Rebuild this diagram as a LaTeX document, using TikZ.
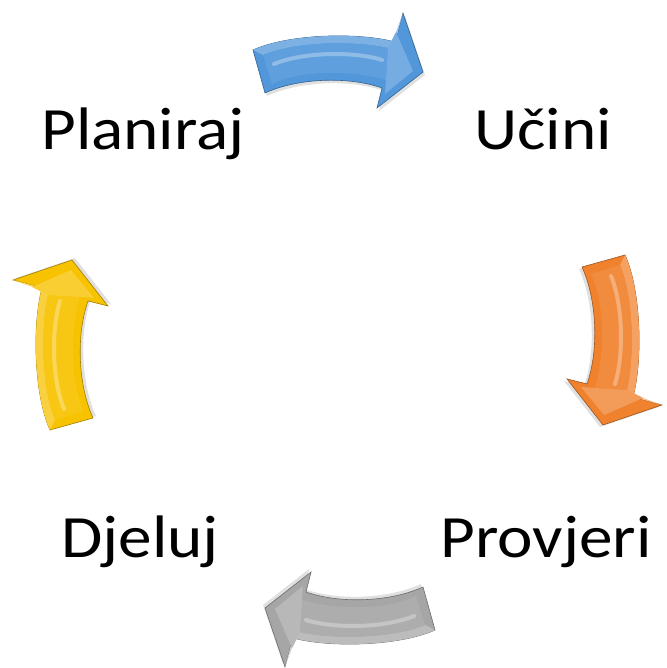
\documentclass[tikz,border=0pt]{standalone}
\usepackage{fontspec}
\setmainfont{Carlito}[FakeStretch=1.12]
\usetikzlibrary{
  calc, % to place the arrows between two labels
}
\definecolor{arrblue}{HTML}{5297DA}
\definecolor{arrorange}{HTML}{F0822E}
\definecolor{arrgray}{HTML}{A6A6A6}
\definecolor{arryellow}{HTML}{F7C200}
\tikzset{
  lbl/.style={ % style for the four step labels
    anchor=base, % place each label by its baseline
    inner sep=0pt, % no padding round the text
    font=\fontsize{60}{60}\selectfont, % large text as in the slide
  },
  pics/cyclearrow/.style={ % bevelled block arrow, pointing along +x
    code={
      % soft shadow
      \begin{scope}[shift={(2,-3)}]
        \fill[black,opacity=0.12] (-85,10) .. controls (-50,26) and (20,28) .. (57,18)
          -- (65,47) -- (85,-12) -- (39,-48) -- (44,-28)
          .. controls (10,-16) and (-40,-18) .. (-73,-33) -- cycle;
      \end{scope}
      % outer body
      \filldraw[fill=#1,draw=#1!65!black,line width=0.6pt]
        (-85,10) .. controls (-50,26) and (20,28) .. (57,18)
        -- (65,47) -- (85,-12) -- (39,-48) -- (44,-28)
        .. controls (10,-16) and (-40,-18) .. (-73,-33) -- cycle;
      % top bevel of shaft and head
      \fill[#1!75!white] (-85,10) .. controls (-50,26) and (20,28) .. (57,18)
        -- (50,12) .. controls (15,20) and (-45,18) .. (-75,5) -- cycle;
      \fill[#1!55!white] (65,47) -- (57,18) -- (50,12) -- (58,28) -- cycle;
      % raised face
      \fill[#1!92!white] (-75,5) .. controls (-45,18) and (15,20) .. (50,12)
        -- (48,-20) .. controls (10,-9) and (-40,-11) .. (-66,-24) -- cycle;
      \fill[#1!80!white] (58,28) -- (75,-11) -- (47,-34) -- (48,-20) -- (50,12) -- cycle;
      % highlight stripe
      \draw[#1!65!white,line width=4pt,line cap=round]
        (-64,-4) .. controls (-35,8) and (15,9) .. (44,0);
    }
  },
}

\begin{document}
\begin{tikzpicture}[x=1pt,y=1pt]
	\useasboundingbox (0,0) rectangle (666,668);

	\node[lbl] (plan) at (143,518) {Planiraj};
	\node[lbl] (ucini) at (543,518) {Učini};
	\node[lbl] (provjeri) at (546,110) {Provjeri};
	\node[lbl] (djeluj) at (140,110) {Djeluj};

	\pic at ($(plan.base)!0.5!(ucini.base)+(-5,90)$) {cyclearrow=arrblue};
	\pic[rotate=-90] at ($(ucini.base)!0.5!(provjeri.base)+(70.5,14)$) {cyclearrow=arrorange};
	\pic[rotate=180] at ($(provjeri.base)!0.5!(djeluj.base)+(7,-62)$) {cyclearrow=arrgray};
	\pic[rotate=90] at ($(djeluj.base)!0.5!(plan.base)+(-81.5,9)$) {cyclearrow=arryellow};

\end{tikzpicture}
\end{document}
